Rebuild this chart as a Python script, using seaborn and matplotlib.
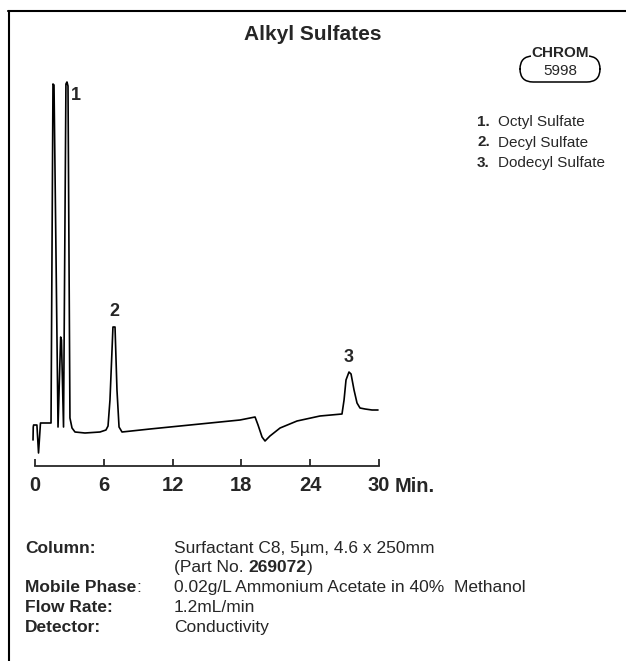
import pandas as pd
import numpy as np
import matplotlib
matplotlib.use("Agg")
import matplotlib.pyplot as plt
import seaborn as sns
from matplotlib.patches import FancyBboxPatch
from matplotlib.lines import Line2D

# retention time (min) and detector signal (arbitrary units)
time_min = [-0.17, -0.15, -0.12, 0.17, 0.31, 0.48, 1.40, 1.57, 1.66, 2.01,
            2.24, 2.31, 2.49, 2.70, 2.79, 2.88, 3.05, 3.23, 3.49, 4.36,
            5.67, 6.19, 6.37, 6.54, 6.80, 6.98, 7.15, 7.33, 7.59, 10.03,
            14.39, 17.88, 19.19, 19.45, 19.80, 20.06, 20.49, 21.37, 22.85, 24.85,
            26.77, 26.95, 27.12, 27.38, 27.56, 27.82, 28.08, 28.34, 28.78, 29.39,
            29.91]
signal = [26, 39, 41, 41, 13, 43, 43, 382, 381, 39,
          129, 126, 39, 382, 384, 380, 48, 38, 34, 33,
          34, 36, 40, 66, 139, 139, 76, 39, 34, 37,
          42, 46, 49, 41, 29, 25, 30, 38, 45, 50,
          52, 66, 86, 94, 92, 76, 63, 58, 57, 56,
          56]

peak_ids = ["1", "2", "3"]
peak_names = ["Octyl Sulfate", "Decyl Sulfate", "Dodecyl Sulfate"]
peak_label_t = [3.58, 6.89, 27.38]
peak_label_h = [371, 155, 109]

x_ticks = [0, 6, 12, 18, 24, 30]

cond_labels = ["Column:", "", "Mobile Phase", "Flow Rate:", "Detector:"]
cond_values = ["Surfactant C8, 5µm, 4.6 x 250mm", "",
               "0.02g/L Ammonium Acetate in 40%  Methanol", "1.2mL/min", "Conductivity"]

df = pd.DataFrame({"Time": time_min, "Signal": signal})

sns.set_style("ticks")
plt.rcParams["font.family"] = ["Liberation Sans", "DejaVu Sans"]

W, H = 626, 661
fig = plt.figure(figsize=(W / 100, H / 100), dpi=100)

def px(x, y):
    return x / W, 1 - y / H

# axes: t=-1 .. 31 maps to px 23.5 .. 390.5 ; signal 0..400 maps to px 466..66
ax = fig.add_axes([23.5 / W, (H - 466) / H, 367 / W, 400 / H])
sns.lineplot(data=df, x="Time", y="Signal", ax=ax, sort=False,
             color="black", linewidth=1.2, estimator=None)
ax.lines[0].set_clip_on(False)
ax.set_xlim(-1, 31)
ax.set_ylim(0, 400)
ax.set_xlabel("")
ax.set_ylabel("")
ax.set_yticks([])
ax.set_xticks(x_ticks)
ax.set_xticklabels([str(t) for t in x_ticks], fontsize=14.5, fontweight="bold")
ax.tick_params(axis="x", direction="in", length=5, width=1.3, pad=7)
for s in ["left", "right", "top"]:
    ax.spines[s].set_visible(False)
ax.spines["bottom"].set_bounds(0, 30)
ax.spines["bottom"].set_linewidth(1.3)

for pid, t, h in zip(peak_ids, peak_label_t, peak_label_h):
    ax.text(t, h, pid, fontsize=13, fontweight="bold", ha="center", va="center")

fig.text(*px(395, 487), "Min.", fontsize=14.5, fontweight="bold", ha="left", va="center")

# title
fig.text(*px(313, 35), "Alkyl Sulfates", fontsize=15, fontweight="bold",
         ha="center", va="center")

# CHROM badge
bx0, by0 = px(520, 82)
bx1, by1 = px(600, 56)
badge = FancyBboxPatch((bx0, by0), bx1 - bx0, by1 - by0,
                       boxstyle="round,pad=0,rounding_size=0.021",
                       transform=fig.transFigure, facecolor="white",
                       edgecolor="black", linewidth=1.1, mutation_aspect=W / H)
fig.add_artist(badge)
fig.text(*px(560, 53), "CHROM", fontsize=11, fontweight="bold", ha="center",
         va="center", bbox=dict(facecolor="white", edgecolor="none", pad=0.3))
fig.text(*px(560, 71), "5998", fontsize=11, ha="center", va="center")

# peak list
for i, (pid, name) in enumerate(zip(peak_ids, peak_names)):
    y = 126 + i * 20.5
    fig.text(*px(477, y), pid + ".", fontsize=11, fontweight="bold",
             ha="left", va="baseline")
    fig.text(*px(498, y), name, fontsize=11, ha="left", va="baseline")

# conditions
ys = [553, 572, 592, 612, 632]
for lab, val, y in zip(cond_labels, cond_values, ys):
    if lab:
        t = fig.text(*px(25, y), lab, fontsize=12.5, fontweight="bold",
                     ha="left", va="baseline")
        if lab == "Mobile Phase":
            ax.annotate(":", xy=(1, 0), xycoords=t, va="bottom", ha="left",
                        fontsize=12.5, annotation_clip=False)
    if val:
        fig.text(*px(174, y), val, fontsize=12.5, ha="left", va="baseline")
p1 = fig.text(*px(174, ys[1]), "(Part No. ", fontsize=12.5, ha="left", va="baseline")
p2 = ax.annotate("269072", xy=(1, 0), xycoords=p1, va="bottom", ha="left",
                 fontsize=12.5, fontweight="bold", annotation_clip=False)
ax.annotate(")", xy=(1, 0), xycoords=p2, va="bottom", ha="left",
            fontsize=12.5, annotation_clip=False)

# frame lines (top and left)
fig.add_artist(Line2D([8 / W, 1], [1 - 11 / H, 1 - 11 / H], transform=fig.transFigure,
                      color="black", linewidth=1.5))
fig.add_artist(Line2D([9 / W, 9 / W], [1 - 11 / H, 0], transform=fig.transFigure,
                      color="black", linewidth=1.5))

fig.savefig("out.png", dpi=100, facecolor="white")
